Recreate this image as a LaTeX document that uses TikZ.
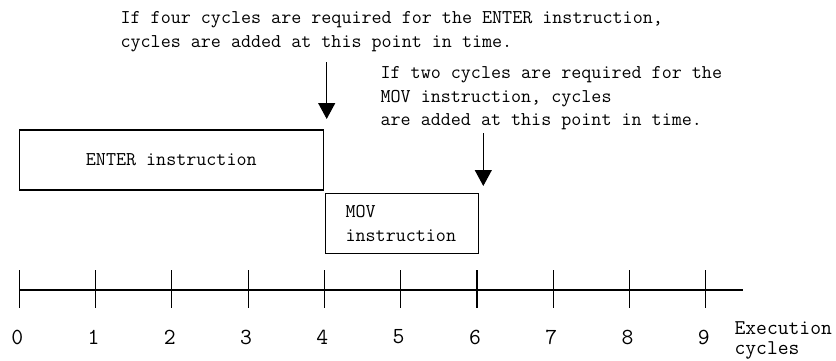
\documentclass[tikz,border=0pt]{standalone}
\usepackage{fontspec}
\usetikzlibrary{arrows.meta}
\tikzset{
  box/.style={draw, inner sep=0pt},
  note/.style={align=left, anchor=north west, inner sep=0pt},
  pointer/.style={-{Triangle[length=16pt,width=17pt]}},
  digit/.style={font=\ttfamily\fontsize{23}{23}\selectfont, inner sep=0pt},
}

\begin{document}
\begin{tikzpicture}[x=1pt, y=-1pt, line width=1.2pt,
    every node/.append style={font=\ttfamily\fontsize{19.5}{23.5}\selectfont}]
  \def\tick{76.27};
  \def\axisx{19.3};
  \def\axisy{290};
  \useasboundingbox (0,0) rectangle (836,360);
  %instructions
  \node[box, minimum width=304pt, minimum height=60pt] (enter) at (171.3,160) {ENTER instruction};
  \node[box, anchor=north west, minimum width=153pt, minimum height=60pt,
    text width=113pt, inner xsep=20pt] (mov) at (325,193) {MOV\\instruction};
  %notes
  \node[note] (enternote) at (120,11)
    {If four cycles are required for the ENTER instruction,\\cycles are added at this point in time.};
  \node[note] (movnote) at (380,66)
    {If two cycles are required for the\\MOV instruction, cycles\\are added at this point in time.};
  \coordinate (enterfrom) at (326.7,62);
  \coordinate (enterto) at (326.7,119);
  \coordinate (movfrom) at (483.3,133);
  \coordinate (movto) at (483.3,186);
  \draw[pointer] (enterfrom)--(enterto);
  \draw[pointer] (movfrom)--(movto);
  %time axis
  \draw (\axisx,\axisy)--(742.7,\axisy);
  \foreach \i in {0,...,9}{
    \draw (\axisx+\i*\tick,270)--++(0,38.3);
    \node[digit] (c\i) at (\axisx-2+\i*\tick,337) {\i};
  }
  \node[note, font=\ttfamily\fontsize{21}{20}\selectfont] (unit) at (734,321) {Execution\\cycles};
\end{tikzpicture}
\end{document}
